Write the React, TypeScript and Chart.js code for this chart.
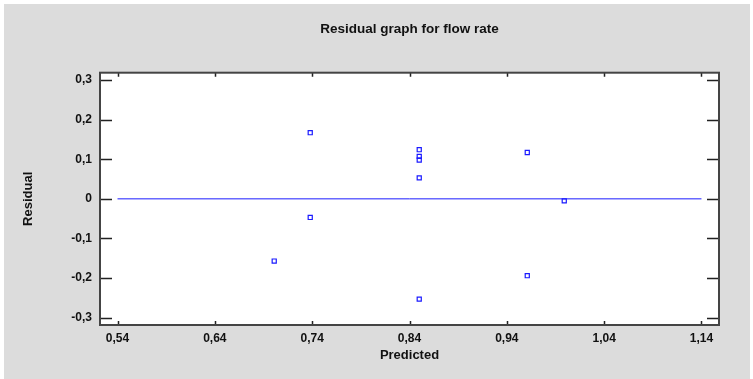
import React, { useEffect, useRef } from "react";
import { Chart, registerables } from "chart.js";

Chart.register(...registerables);

const chartTitle = "Residual graph for flow rate";
const xAxisTitle = "Predicted";
const yAxisTitle = "Residual";

const predicted = [0.701, 0.738, 0.738, 0.85, 0.85, 0.85, 0.85, 0.85, 0.961, 0.961, 0.999];
const residual = [-0.157, 0.167, -0.047, 0.124, 0.107, 0.098, 0.053, -0.253, 0.117, -0.194, -0.005];

const zeroLineX = [0.54, 1.14];
const zeroLineY = [0, 0];

const xTicks = [0.54, 0.64, 0.74, 0.84, 0.94, 1.04, 1.14];
const yTicks = [-0.3, -0.2, -0.1, 0, 0.1, 0.2, 0.3];

const xMin = 0.522;
const xMax = 1.158;
const yMin = -0.3184;
const yMax = 0.3184;

const FONT = "'Liberation Sans', Arial, sans-serif";
const BLUE = "#1a1aff";

const fmtX = (v: number) => v.toFixed(2).replace(".", ",");
const fmtY = (v: number) => (Math.abs(v) < 1e-9 ? "0" : v.toFixed(1).replace(".", ","));

const framePlugin = {
  id: "frame",
  afterLayout(chart: any) {
    const tb = chart.titleBlock;
    if (tb) {
      tb.left = chart.chartArea.left;
      tb.right = chart.chartArea.right;
    }
  },
  beforeDraw(chart: any) {
    const { ctx, width, height, chartArea } = chart;
    ctx.save();
    ctx.fillStyle = "#ffffff";
    ctx.fillRect(0, 0, width, height);
    ctx.fillStyle = "#dcdcdc";
    ctx.fillRect(4, 4, width - 7, height - 4);
    ctx.fillStyle = "#ffffff";
    ctx.fillRect(chartArea.left, chartArea.top, chartArea.right - chartArea.left, chartArea.bottom - chartArea.top);
    ctx.restore();
  },
  afterDraw(chart: any) {
    const { ctx, chartArea } = chart;
    const { left, right, top, bottom } = chartArea;
    const xs = chart.scales.x;
    const ys = chart.scales.y;
    ctx.save();
    ctx.strokeStyle = "#222";
    ctx.lineWidth = 1.5;
    ctx.beginPath();
    yTicks.forEach((v) => {
      const py = Math.round(ys.getPixelForValue(v)) + 0.5;
      ctx.moveTo(left, py);
      ctx.lineTo(left + 12, py);
      ctx.moveTo(right, py);
      ctx.lineTo(right - 12, py);
    });
    xTicks.forEach((v) => {
      const px = Math.round(xs.getPixelForValue(v)) + 0.5;
      ctx.moveTo(px, bottom);
      ctx.lineTo(px, bottom - 4);
      ctx.moveTo(px, top);
      ctx.lineTo(px, top + 4);
    });
    ctx.stroke();
    ctx.strokeStyle = "#444";
    ctx.lineWidth = 2;
    ctx.strokeRect(left, top, right - left, bottom - top);
    ctx.restore();
  },
};

export default function App() {
  const ref = useRef<HTMLCanvasElement>(null);

  useEffect(() => {
    if (!ref.current) return;
    const chart = new Chart(ref.current, {
      type: "scatter",
      data: {
        datasets: [
          {
            type: "line",
            data: zeroLineX.map((x, i) => ({ x, y: zeroLineY[i] })),
            borderColor: BLUE,
            borderWidth: 1,
            pointRadius: 0,
            fill: false,
          } as any,
          {
            type: "scatter",
            data: predicted.map((x, i) => ({ x, y: residual[i] })),
            pointStyle: "rect",
            pointRadius: 2.9,
            borderColor: BLUE,
            backgroundColor: "rgba(0,0,0,0)",
            borderWidth: 1.2,
          } as any,
        ],
      },
      options: {
        responsive: false,
        animation: false,
        devicePixelRatio: 1,
        layout: { padding: { left: 0, right: 34, top: 0, bottom: 0 } },
        plugins: {
          legend: { display: false },
          tooltip: { enabled: false },
          title: {
            display: true,
            text: chartTitle,
            color: "#111",
            font: { family: FONT, size: 13.5, weight: "bold" },
            padding: { top: 21, bottom: 35.5 },
          },
        },
        scales: {
          x: {
            type: "linear",
            min: xMin,
            max: xMax,
            grid: { display: false, drawTicks: false },
            border: { display: false },
            afterBuildTicks: (scale: any) => {
              scale.ticks = xTicks.map((v) => ({ value: v }));
            },
            afterFit: (scale: any) => {
              scale.height = 54;
            },
            ticks: {
              autoSkip: false,
              maxRotation: 0,
              padding: 6,
              color: "#111",
              font: { family: FONT, size: 12, weight: "bold" },
              callback: (v: any) => fmtX(Number(v)),
            },
            title: {
              display: true,
              text: xAxisTitle,
              color: "#111",
              font: { family: FONT, size: 13, weight: "bold" },
              padding: { top: 0, bottom: 16 },
            },
          },
          y: {
            type: "linear",
            min: yMin,
            max: yMax,
            grid: { display: false, drawTicks: false },
            border: { display: false },
            afterBuildTicks: (scale: any) => {
              scale.ticks = yTicks.map((v) => ({ value: v }));
            },
            afterFit: (scale: any) => {
              scale.width = 100;
            },
            ticks: {
              autoSkip: false,
              padding: 8,
              color: "#111",
              font: { family: FONT, size: 12, weight: "bold" },
              callback: (v: any) => fmtY(Number(v)),
            },
            title: {
              display: true,
              text: yAxisTitle,
              color: "#111",
              font: { family: FONT, size: 13, weight: "bold" },
              padding: { top: 21, bottom: 0 },
            },
          },
        },
      },
      plugins: [framePlugin],
    });
    return () => chart.destroy();
  }, []);

  return (
    <div style={{ position: "absolute", left: 0, top: 0, width: 753, height: 379 }}>
      <canvas ref={ref} width={753} height={379} style={{ display: "block" }} />
    </div>
  );
}
